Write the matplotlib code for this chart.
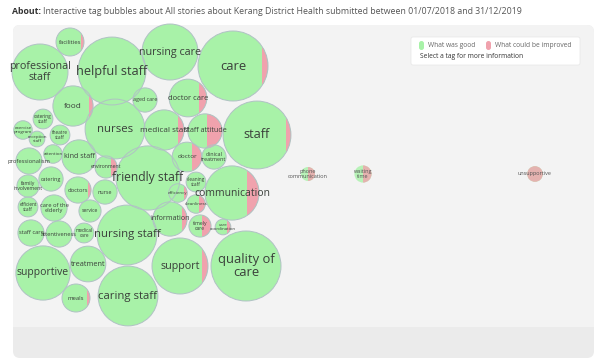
import numpy as np
import matplotlib.pyplot as plt
from matplotlib.patches import Circle, Rectangle, FancyBboxPatch

# ----------------------------------------------------------------------------
# data : tag -> number of stories (what was good / what could be improved)
# ----------------------------------------------------------------------------
tags = ['facilities', 'professional\nstaff', 'helpful staff', 'nursing care', 'care',
        'aged care', 'doctor care', 'food', 'nurses', 'medical staff',
        'staff attitude', 'staff', 'doctor', 'clinical\ntreatment', 'friendly staff',
        'environment', 'kind staff', 'attention', 'professionalism', 'catering\nstaff',
        'exercise\nprogram', 'theatre\nstaff', 'reception\nstaff', 'catering', 'family\ninvolvement',
        'doctors', 'nurse', 'efficient\nstaff', 'care of the\nelderly', 'service',
        'staff care', 'attentiveness', 'medical\ncare', 'nursing staff', 'supportive',
        'treatment', 'meals', 'caring staff', 'information', 'efficiency',
        'cleaning\nstaff', 'cleanliness', 'communication', 'timely\ncare', 'care\ncoordination',
        'support', 'quality of\ncare', 'phone\ncommunication', 'waiting\ntime', 'unsupportive']

good = [15, 64, 94, 64, 96,
        12, 25, 31, 73, 30,
        14, 91, 13, 12, 84,
        8, 24, 7, 14, 8,
        7, 8, 5, 12, 10,
        13, 12, 8, 14, 10,
        14, 14, 8, 73, 60,
        26, 15, 73, 22, 6,
        8, 5, 50, 6, 4,
        60, 100, 2, 3, 0]

improve = [1, 0, 0, 0, 4,
           0, 4, 2, 0, 3,
           10, 3, 5, 0, 0,
           2, 0, 0, 0, 0,
           0, 0, 0, 0, 0,
           1, 0, 0, 0, 0,
           0, 0, 0, 0, 0,
           0, 1, 0, 2, 1,
           0, 2, 10, 4, 1,
           4, 0, 2, 3, 5]

# tags outside the current selection (drawn faded)
faded = ['phone\ncommunication', 'waiting\ntime', 'unsupportive']

# ----------------------------------------------------------------------------
# bubble layout (pixel positions of the packed bubbles)
# ----------------------------------------------------------------------------
layout = [(70, 42), (40, 72), (112, 71), (170, 52), (233, 66),
          (145, 100), (188, 98), (73, 106), (115, 129), (164, 130),
          (205, 131), (257, 135), (187, 157), (214, 157), (148, 178),
          (106, 167), (79, 157), (53, 154), (29, 161), (43, 119),
          (23, 130), (60, 135), (37, 139), (51, 179), (28, 186),
          (78, 190), (105, 192), (28, 207), (54, 208), (90, 211),
          (31, 233), (59, 234), (84, 233), (127, 235), (43, 273),
          (88, 264), (76, 298), (128, 296), (170, 219), (178, 193),
          (196, 182), (196, 204), (232, 193), (200, 226), (223, 227),
          (180, 266), (246, 266), (308, 174), (363, 174), (535, 174)]

GREEN = '#a8f2a8'
RED = '#f0a2ad'
EDGE = '#b0c2c4'
TEXT = '#3a3f3a'
FONT = 'Open Sans'


def split_position(frac):
    """Position (in radius units) of the vertical chord leaving `frac` of the area on its right"""
    lo, hi = -1.0, 1.0
    for _ in range(60):
        d = (lo + hi) / 2
        seg = (np.arccos(d) - d * np.sqrt(1 - d * d)) / np.pi
        if seg > frac:
            lo = d
        else:
            hi = d
    return (lo + hi) / 2


def draw_bubble(ax, x, y, r, frac, label, dim=False):
    alpha = 0.8 if dim else 1.0
    disc = Circle((x, y), r, facecolor=GREEN, edgecolor='none', alpha=alpha, zorder=2)
    ax.add_patch(disc)
    if frac > 0:
        d = split_position(frac)
        part = Rectangle((x + d * r, y - r), r * (1 - d), 2 * r,
                         facecolor=RED, edgecolor='none', alpha=alpha, zorder=3)
        ax.add_patch(part)
        part.set_clip_path(disc)
    if not dim:
        ax.add_patch(Circle((x, y), r, fill=False, edgecolor=EDGE, lw=0.7, zorder=4))
    fs = 4.0 if dim else max(3.2, 1.0 + 0.24 * r)
    ax.text(x, y, label, ha='center', va='center', fontsize=fs,
            color='#555555' if dim else TEXT,
            family=FONT, linespacing=0.9, zorder=5)


fig = plt.figure(figsize=(5.99, 3.62), dpi=100)
ax = fig.add_axes([0, 0, 1, 1])
ax.set_xlim(0, 599)
ax.set_ylim(362, 0)
ax.axis('off')

# panel
ax.add_patch(FancyBboxPatch((13, 25), 581, 333, boxstyle='round,pad=0,rounding_size=7',
                            facecolor='#ebebeb', edgecolor='none', zorder=0))
ax.add_patch(FancyBboxPatch((13, 25), 581, 312, boxstyle='round,pad=0,rounding_size=7',
                            facecolor='#f3f3f3', edgecolor='none', zorder=0))
ax.add_patch(Rectangle((13, 327), 581, 12, facecolor='#ebebeb', edgecolor='none', zorder=0))

# title
t = ax.text(12, 11, 'About:', fontsize=6.3, weight='bold', color='#333333',
            family=FONT, va='center')
fig.canvas.draw()
bb = t.get_window_extent().transformed(ax.transData.inverted())
ax.text(bb.x1 + 2, 11, 'Interactive tag bubbles about All stories about Kerang District Health '
        'submitted between 01/07/2018 and 31/12/2019',
        fontsize=6.3, color='#555555', family=FONT, va='center')

# bubbles
for tag, g, b, (x, y) in zip(tags, good, improve, layout):
    n = g + b
    r = 3.5 * np.sqrt(n)
    draw_bubble(ax, x, y, r, b / n, tag, dim=tag in faded)

# legend
ax.add_patch(FancyBboxPatch((411, 37), 169, 28, boxstyle='round,pad=0,rounding_size=2',
                            facecolor='white', edgecolor='#e6e6e6', lw=0.5, zorder=6))
ax.add_patch(FancyBboxPatch((419, 41), 5, 9, boxstyle='round,pad=0,rounding_size=2.5',
                            facecolor=GREEN, edgecolor='none', zorder=7))
ax.text(428, 45.5, 'What was good', fontsize=4.8, color='#666666', family=FONT,
        va='center', zorder=7)
ax.add_patch(FancyBboxPatch((486, 41), 5, 9, boxstyle='round,pad=0,rounding_size=2.5',
                            facecolor=RED, edgecolor='none', zorder=7))
ax.text(495, 45.5, 'What could be improved', fontsize=4.8, color='#666666', family=FONT,
        va='center', zorder=7)
ax.text(420, 57, 'Select a tag for more information', fontsize=4.8, color='#333333',
        family=FONT, va='center', zorder=7)

fig.savefig('out.png', dpi=100, facecolor='white')
